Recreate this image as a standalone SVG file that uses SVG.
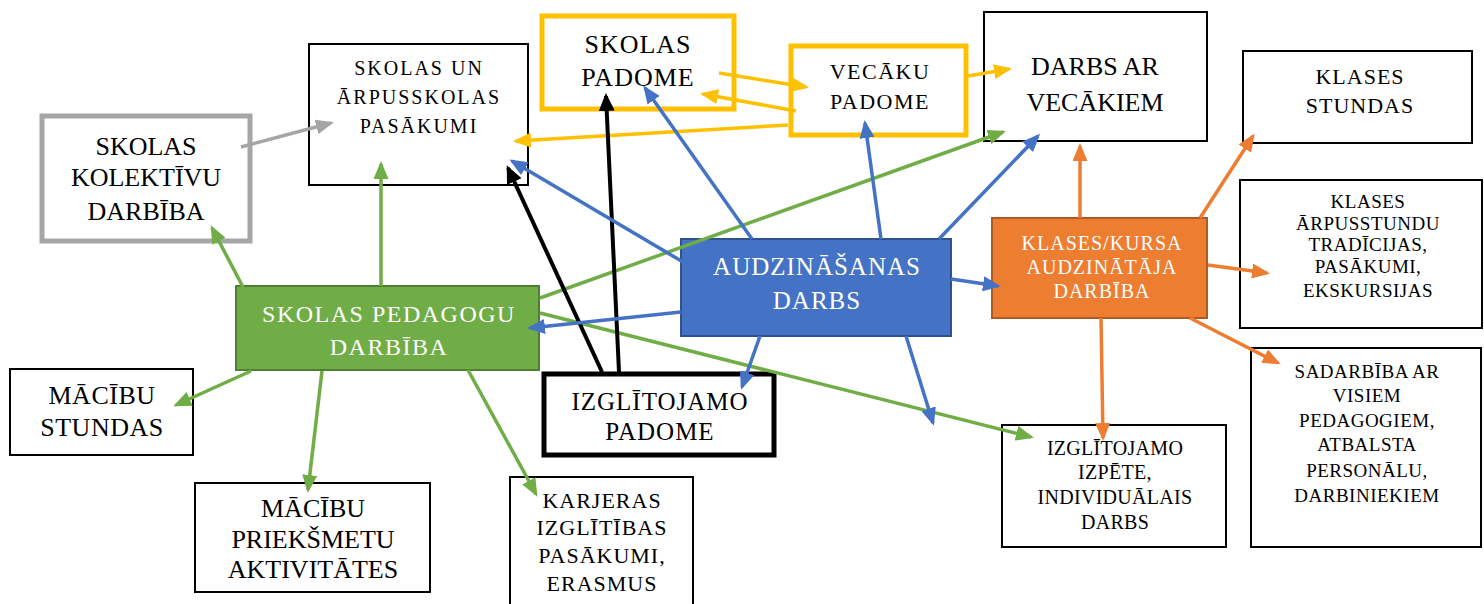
<svg xmlns="http://www.w3.org/2000/svg" width="1484" height="604" viewBox="0 0 1484 604" font-family="Liberation Serif, serif">
<style>
text{font-family:'Liberation Serif',serif;text-anchor:middle;fill:#000}
.w{fill:#fff}
.box{fill:#fff;stroke:#000;stroke-width:2}
.yel{fill:#fff;stroke:#ffc000;stroke-width:5}
.c{fill:none;stroke-width:3.5}
.g{stroke:#70ad47}.b{stroke:#4472c4}.o{stroke:#ed7d31}.y{stroke:#ffc000}.gr{stroke:#a5a5a5}.k{stroke:#000;stroke-width:4}
</style>
<defs>
<marker id="mg" markerUnits="userSpaceOnUse" markerWidth="18" markerHeight="15" refX="15" refY="7.5" orient="auto"><path d="M0,0 L18,7.5 L0,15 z" fill="#70ad47"/></marker>
<marker id="mb" markerUnits="userSpaceOnUse" markerWidth="18" markerHeight="15" refX="15" refY="7.5" orient="auto"><path d="M0,0 L18,7.5 L0,15 z" fill="#4472c4"/></marker>
<marker id="mo" markerUnits="userSpaceOnUse" markerWidth="18" markerHeight="15" refX="15" refY="7.5" orient="auto"><path d="M0,0 L18,7.5 L0,15 z" fill="#ed7d31"/></marker>
<marker id="my" markerUnits="userSpaceOnUse" markerWidth="18" markerHeight="15" refX="15" refY="7.5" orient="auto"><path d="M0,0 L18,7.5 L0,15 z" fill="#ffc000"/></marker>
<marker id="mgr" markerUnits="userSpaceOnUse" markerWidth="18" markerHeight="15" refX="15" refY="7.5" orient="auto"><path d="M0,0 L18,7.5 L0,15 z" fill="#a5a5a5"/></marker>
<marker id="mk" markerUnits="userSpaceOnUse" markerWidth="18" markerHeight="16" refX="15" refY="8" orient="auto"><path d="M0,0 L18,8 L0,16 z" fill="#000"/></marker>
</defs>
<rect width="1484" height="604" fill="#fff"/>

<g id="n-skolas-un-arpusskolas">
<rect class="box" x="309" y="44" width="219" height="141"/>
<text font-family="Liberation Serif, serif" font-size="20" letter-spacing="2"><tspan x="419" y="75">SKOLAS UN</tspan><tspan x="419" y="104">ĀRPUSSKOLAS</tspan><tspan x="419" y="133">PASĀKUMI</tspan></text>
</g>
<g id="n-kolektivu">
<rect x="42" y="116" width="208" height="125" fill="#fff" stroke="#a6a6a6" stroke-width="5"/>
<text font-family="Liberation Serif, serif" font-size="26"><tspan x="146" y="155">SKOLAS</tspan><tspan x="146" y="186">KOLEKTĪVU</tspan><tspan x="146" y="220">DARBĪBA</tspan></text>
</g>
<g id="n-skolas-padome">
<rect class="yel" x="542" y="16" width="192" height="93"/>
<text font-family="Liberation Serif, serif" font-size="26" letter-spacing="1"><tspan x="638" y="53">SKOLAS</tspan><tspan x="638" y="86">PADOME</tspan></text>
</g>
<g id="n-vecaku-padome">
<rect class="yel" x="791" y="46" width="175" height="89"/>
<text font-family="Liberation Serif, serif" font-size="22" letter-spacing="1.5"><tspan x="880" y="79">VECĀKU</tspan><tspan x="880" y="109">PADOME</tspan></text>
</g>
<g id="n-darbs-ar-vecakiem">
<rect class="box" x="984" y="12" width="223" height="129"/>
<text font-family="Liberation Serif, serif" font-size="26"><tspan x="1095" y="75">DARBS AR</tspan><tspan x="1095" y="111">VECĀKIEM</tspan></text>
</g>
<g id="n-klases-stundas">
<rect class="box" x="1243" y="51" width="229" height="92"/>
<text font-family="Liberation Serif, serif" font-size="22" letter-spacing="1"><tspan x="1360" y="84">KLASES</tspan><tspan x="1360" y="113">STUNDAS</tspan></text>
</g>
<g id="n-klases-arpusstundu">
<rect class="box" x="1240" y="180" width="242" height="148"/>
<text font-family="Liberation Serif, serif" font-size="19" letter-spacing="0.5"><tspan x="1368" y="208">KLASES</tspan><tspan x="1368" y="230">ĀRPUSSTUNDU</tspan><tspan x="1368" y="251">TRADĪCIJAS,</tspan><tspan x="1368" y="273">PASĀKUMI,</tspan><tspan x="1368" y="297">EKSKURSIJAS</tspan></text>
</g>
<g id="n-audzinataja">
<rect x="992" y="218" width="215" height="100" fill="#ed7d31" stroke="#ae5a21" stroke-width="2"/>
<text class="w" font-family="Liberation Serif, serif" font-size="20" letter-spacing="1"><tspan class="w" x="1102" y="250">KLASES/KURSA</tspan><tspan class="w" x="1102" y="274">AUDZINĀTĀJA</tspan><tspan class="w" x="1102" y="298">DARBĪBA</tspan></text>
</g>
<g id="n-audzinasanas">
<rect x="681" y="239" width="270" height="97" fill="#4472c4" stroke="#2f528f" stroke-width="2"/>
<text class="w" font-family="Liberation Serif, serif" font-size="25" letter-spacing="1"><tspan class="w" x="817" y="275">AUDZINĀŠANAS</tspan><tspan class="w" x="817" y="309">DARBS</tspan></text>
</g>
<g id="n-pedagogu">
<rect x="236" y="286" width="303" height="84" fill="#70ad47" stroke="#507e32" stroke-width="2"/>
<text class="w" font-family="Liberation Serif, serif" font-size="24" letter-spacing="1.5"><tspan class="w" x="389" y="322">SKOLAS PEDAGOGU</tspan><tspan class="w" x="389" y="355">DARBĪBA</tspan></text>
</g>
<g id="n-macibu-stundas">
<rect class="box" x="10" y="369" width="183" height="86"/>
<text font-family="Liberation Serif, serif" font-size="26" letter-spacing="0.5"><tspan x="102" y="404">MĀCĪBU</tspan><tspan x="102" y="436">STUNDAS</tspan></text>
</g>
<g id="n-izglitojamo-padome">
<rect x="544" y="374" width="230" height="81" fill="#fff" stroke="#000" stroke-width="5"/>
<text font-family="Liberation Serif, serif" font-size="25" letter-spacing="1"><tspan x="660" y="410">IZGLĪTOJAMO</tspan><tspan x="660" y="440">PADOME</tspan></text>
</g>
<g id="n-prieksmetu">
<rect class="box" x="195" y="483" width="235" height="109"/>
<text font-family="Liberation Serif, serif" font-size="26"><tspan x="313" y="517">MĀCĪBU</tspan><tspan x="313" y="548">PRIEKŠMETU</tspan><tspan x="313" y="578">AKTIVITĀTES</tspan></text>
</g>
<g id="n-karjeras">
<rect class="box" x="510" y="477" width="183" height="140"/>
<text font-family="Liberation Serif, serif" font-size="22" letter-spacing="1"><tspan x="602" y="508">KARJERAS</tspan><tspan x="602" y="535">IZGLĪTĪBAS</tspan><tspan x="602" y="563">PASĀKUMI,</tspan><tspan x="602" y="591">ERASMUS</tspan></text>
</g>
<g id="n-izpete">
<rect class="box" x="1002" y="425" width="224" height="122"/>
<text font-family="Liberation Serif, serif" font-size="20" letter-spacing="0.3"><tspan x="1115" y="455">IZGLĪTOJAMO</tspan><tspan x="1115" y="479">IZPĒTE,</tspan><tspan x="1115" y="504">INDIVIDUĀLAIS</tspan><tspan x="1115" y="529">DARBS</tspan></text>
</g>
<g id="n-sadarbiba">
<rect class="box" x="1251" y="348" width="230" height="199"/>
<text font-family="Liberation Serif, serif" font-size="19" letter-spacing="0.5"><tspan x="1367" y="378">SADARBĪBA AR</tspan><tspan x="1367" y="402">VISIEM</tspan><tspan x="1367" y="427">PEDAGOGIEM,</tspan><tspan x="1367" y="451">ATBALSTA</tspan><tspan x="1367" y="477">PERSONĀLU,</tspan><tspan x="1367" y="502">DARBINIEKIEM</tspan></text>
</g>

<g id="connectors">
<line class="c gr" x1="241" y1="147" x2="331" y2="123" marker-end="url(#mgr)"/>
<line class="c g" x1="381" y1="286" x2="381" y2="164" marker-end="url(#mg)"/>
<line class="c g" x1="243" y1="287" x2="212" y2="228" marker-end="url(#mg)"/>
<line class="c g" x1="251" y1="371" x2="176" y2="405" marker-end="url(#mg)"/>
<line class="c g" x1="322" y1="371" x2="308" y2="490" marker-end="url(#mg)"/>
<line class="c g" x1="468" y1="370" x2="536" y2="494" marker-end="url(#mg)"/>
<line class="c g" x1="540" y1="298" x2="1003" y2="132" marker-end="url(#mg)"/>
<line class="c g" x1="540" y1="313" x2="1031" y2="437" marker-end="url(#mg)"/>
<line class="c y" x1="719" y1="73" x2="806" y2="87" marker-end="url(#my)"/>
<line class="c y" x1="796" y1="111" x2="703" y2="94" marker-end="url(#my)"/>
<line class="c y" x1="788" y1="125" x2="516" y2="141" marker-end="url(#my)"/>
<line class="c y" x1="968" y1="76" x2="1009" y2="69" marker-end="url(#my)"/>
<line class="c k" x1="619" y1="372" x2="606" y2="96" marker-end="url(#mk)"/>
<line class="c k" x1="602" y1="372" x2="508" y2="168" marker-end="url(#mk)"/>
<line class="c b" x1="752" y1="239" x2="645" y2="88" marker-end="url(#mb)"/>
<line class="c b" x1="881" y1="239" x2="865" y2="123" marker-end="url(#mb)"/>
<line class="c b" x1="939" y1="239" x2="1038" y2="136" marker-end="url(#mb)"/>
<line class="c b" x1="683" y1="262" x2="512" y2="161" marker-end="url(#mb)"/>
<line class="c b" x1="681" y1="312" x2="530" y2="328" marker-end="url(#mb)"/>
<line class="c b" x1="760" y1="336" x2="742" y2="387" marker-end="url(#mb)"/>
<line class="c b" x1="906" y1="336" x2="933" y2="423" marker-end="url(#mb)"/>
<line class="c b" x1="951" y1="279" x2="998" y2="286" marker-end="url(#mb)"/>
<line class="c o" x1="1080" y1="218" x2="1080" y2="146" marker-end="url(#mo)"/>
<line class="c o" x1="1200" y1="218" x2="1253" y2="136" marker-end="url(#mo)"/>
<line class="c o" x1="1208" y1="265" x2="1267" y2="273" marker-end="url(#mo)"/>
<line class="c o" x1="1101" y1="318" x2="1103" y2="438" marker-end="url(#mo)"/>
<line class="c o" x1="1190" y1="318" x2="1278" y2="363" marker-end="url(#mo)"/>
</g>
</svg>
